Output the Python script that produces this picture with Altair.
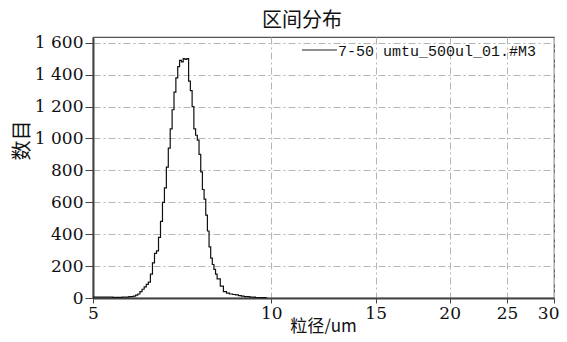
import altair as alt
import pandas as pd

# ---- data ----
sizes = [5.00, 5.20, 5.40, 5.60, 5.75, 5.85, 5.90, 5.95, 6.00, 6.05, 6.10, 6.15,
         6.20, 6.25, 6.30, 6.35, 6.40, 6.45, 6.50, 6.55, 6.60, 6.65, 6.70, 6.75,
         6.80, 6.85, 6.90, 6.95, 7.00, 7.05, 7.10, 7.15, 7.20, 7.25, 7.30, 7.35,
         7.40, 7.45, 7.50, 7.55, 7.60, 7.65, 7.70, 7.75, 7.80, 7.85, 7.90, 7.95,
         8.00, 8.05, 8.10, 8.20, 8.30, 8.40, 8.50, 8.60, 8.70, 8.80, 8.90, 9.00,
         9.20, 9.40, 9.60, 9.80]
counts = [5, 6, 4, 5, 8, 12, 18, 25, 40, 55, 70, 85,
          100, 150, 220, 280, 295, 380, 480, 600, 690, 820, 940, 1060,
          1180, 1290, 1380, 1450, 1490, 1480, 1500, 1495, 1500, 1360, 1300, 1200,
          1060, 1020, 990, 900, 790, 680, 620, 520, 420, 320, 250, 210,
          180, 150, 120, 75, 40, 30, 25, 22, 20, 15, 12, 8,
          5, 3, 2, 0]
x_ticks = [5, 10, 15, 20, 25, 30]
y_ticks = [0, 200, 400, 600, 800, 1000, 1200, 1400, 1600]
series_name = ["7-50 umtu_500ul_01.#M3"]
chart_title = ["区间分布"]
x_title = "粒径/um"
y_title = "数目"

df = pd.DataFrame({"size": sizes, "count": counts})

serif = "DejaVu Serif"
cjk = "Noto Sans CJK SC"
grid_dash = [7, 3, 2, 3]

line = alt.Chart(df).mark_line(interpolate="step-after", color="#111111", strokeWidth=1.2).encode(
    x=alt.X("size:Q",
            scale=alt.Scale(type="log", domain=[5, 30], nice=False),
            axis=alt.Axis(values=x_ticks, format="d", title=x_title,
                          titleFont=cjk, titleFontSize=17, titleFontWeight="normal",
                          titleColor="#111111", titleX=230, titleY=28,
                          titleAlign="center", titleBaseline="middle",
                          labelFont=serif, labelFontSize=17, labelColor="#111111",
                          labelPadding=2, tickSize=5, tickColor="#444444",
                          labelAlign={"condition": {"test": "datum.value == 30", "value": "right"},
                                      "value": "center"},
                          labelOffset={"condition": {"test": "datum.value == 30", "value": 5},
                                       "value": 0},
                          domainColor="#444444", domainWidth=2,
                          grid=True, gridColor="#b5b5b5", gridDash=grid_dash, gridWidth=1,
                          labelFlush=False)),
    y=alt.Y("count:Q",
            scale=alt.Scale(domain=[0, 1636], nice=False),
            axis=alt.Axis(values=y_ticks, title=y_title,
                          labelExpr="replace(format(datum.value, ','), ',', ' ')",
                          titleFont=cjk, titleFontSize=20, titleFontWeight="normal",
                          titleColor="#111111", titleX=-71, titleY=103,
                          titleAngle=270, titleAlign="center", titleBaseline="middle",
                          labelFont=serif, labelFontSize=17, labelColor="#111111",
                          labelPadding=2, tickSize=8, tickColor="#444444",
                          domainColor="#444444", domainWidth=2,
                          grid=True, gridColor="#b5b5b5", gridDash=grid_dash, gridWidth=1)),
)

legend_rule = alt.Chart(pd.DataFrame({"t": series_name})).mark_rule(
    color="#222222", strokeWidth=1).encode(
    x=alt.value(209), x2=alt.value(244), y=alt.value(13))

legend_text = alt.Chart(pd.DataFrame({"t": series_name})).mark_text(
    align="left", baseline="middle", font="Liberation Mono", fontSize=15, color="#111111").encode(
    x=alt.value(245), y=alt.value(14), text="t:N")

title_text = alt.Chart(pd.DataFrame({"t": chart_title})).mark_text(
    align="center", baseline="middle", font=cjk, fontSize=20, color="#111111").encode(
    x=alt.value(209), y=alt.value(-16), text="t:N")

chart = alt.layer(line, legend_rule, legend_text, title_text).properties(
    width=461, height=261,
    autosize=alt.AutoSizeParams(type="none"),
    padding={"left": 85, "top": 29, "right": 5, "bottom": 36},
    background="white",
).configure_view(stroke="#555555", strokeWidth=1.2)

chart.save("out.html", embed_options={"renderer": "svg", "actions": False})
